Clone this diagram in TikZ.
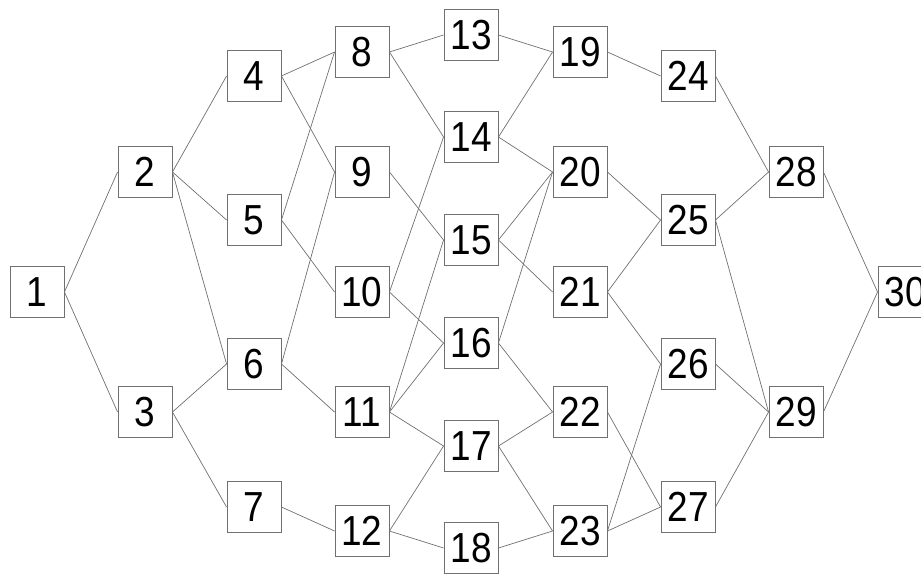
\documentclass[tikz,border=0pt]{standalone}
\usepackage{fontspec}
\setmainfont[FakeStretch=0.88]{Liberation Sans}
\usepackage{tikz}
\usetikzlibrary{positioning}
\definecolor{netgray}{RGB}{112,112,112}

\begin{document}
\begin{tikzpicture}[
    x=1pt, y=-1pt,
    box/.style={draw=netgray, line width=0.9pt, fill=white, minimum width=54pt, minimum height=51pt, inner sep=0pt, font=\fontsize{42}{42}\selectfont},
    link/.style={netgray, line width=0.7pt}
  ]
    \useasboundingbox (0,0) rectangle (921,573);
    % stages from left to right
    \node[box] (n1) at (37,292) {1};
    \node[box] (n2) at (145,172) {2};
    \node[box] (n3) at (145,412) {3};
    \node[box] (n4) at (254,76) {4};
    \node[box] (n5) at (254,220) {5};
    \node[box] (n6) at (254,364) {6};
    \node[box] (n7) at (254,507) {7};
    \node[box] (n8) at (362,52) {8};
    \node[box] (n9) at (362,172) {9};
    \node[box] (n10) at (362,292) {10};
    \node[box] (n11) at (362,412) {11};
    \node[box] (n12) at (362,531) {12};
    \node[box] (n13) at (471,35) {13};
    \node[box] (n14) at (471,137) {14};
    \node[box] (n15) at (471,240) {15};
    \node[box] (n16) at (471,343) {16};
    \node[box] (n17) at (471,446) {17};
    \node[box] (n18) at (471,548) {18};
    \node[box] (n19) at (580,52) {19};
    \node[box] (n20) at (580,172) {20};
    \node[box] (n21) at (580,292) {21};
    \node[box] (n22) at (580,412) {22};
    \node[box] (n23) at (580,531) {23};
    \node[box] (n24) at (688,76) {24};
    \node[box] (n25) at (688,220) {25};
    \node[box] (n26) at (688,364) {26};
    \node[box] (n27) at (688,507) {27};
    \node[box] (n28) at (796,172) {28};
    \node[box] (n29) at (796,412) {29};
    \node[box] (n30) at (905,292) {30};
    % links
    \draw[link] (n1.east) -- (n2.west);
    \draw[link] (n1.east) -- (n3.west);
    \draw[link] (n2.east) -- (n4.west);
    \draw[link] (n2.east) -- (n5.west);
    \draw[link] (n2.east) -- (n6.west);
    \draw[link] (n3.east) -- (n6.west);
    \draw[link] (n3.east) -- (n7.west);
    \draw[link] (n4.east) -- (n8.west);
    \draw[link] (n4.east) -- (n9.west);
    \draw[link] (n5.east) -- (n8.west);
    \draw[link] (n5.east) -- (n10.west);
    \draw[link] (n6.east) -- (n9.west);
    \draw[link] (n6.east) -- (n11.west);
    \draw[link] (n7.east) -- (n12.west);
    \draw[link] (n8.east) -- (n13.west);
    \draw[link] (n8.east) -- (n14.west);
    \draw[link] (n9.east) -- (n15.west);
    \draw[link] (n10.east) -- (n14.west);
    \draw[link] (n10.east) -- (n16.west);
    \draw[link] (n11.east) -- (n15.west);
    \draw[link] (n11.east) -- (n16.west);
    \draw[link] (n11.east) -- (n17.west);
    \draw[link] (n12.east) -- (n17.west);
    \draw[link] (n12.east) -- (n18.west);
    \draw[link] (n13.east) -- (n19.west);
    \draw[link] (n14.east) -- (n19.west);
    \draw[link] (n14.east) -- (n20.west);
    \draw[link] (n15.east) -- (n20.west);
    \draw[link] (n15.east) -- (n21.west);
    \draw[link] (n16.east) -- (n20.west);
    \draw[link] (n16.east) -- (n22.west);
    \draw[link] (n17.east) -- (n22.west);
    \draw[link] (n17.east) -- (n23.west);
    \draw[link] (n18.east) -- (n23.west);
    \draw[link] (n19.east) -- (n24.west);
    \draw[link] (n20.east) -- (n25.west);
    \draw[link] (n21.east) -- (n25.west);
    \draw[link] (n21.east) -- (n26.west);
    \draw[link] (n22.east) -- (n27.west);
    \draw[link] (n23.east) -- (n26.west);
    \draw[link] (n23.east) -- (n27.west);
    \draw[link] (n24.east) -- (n28.west);
    \draw[link] (n25.east) -- (n28.west);
    \draw[link] (n25.east) -- (n29.west);
    \draw[link] (n26.east) -- (n29.west);
    \draw[link] (n27.east) -- (n29.west);
    \draw[link] (n28.east) -- (n30.west);
    \draw[link] (n29.east) -- (n30.west);
  \end{tikzpicture}
\end{document}
